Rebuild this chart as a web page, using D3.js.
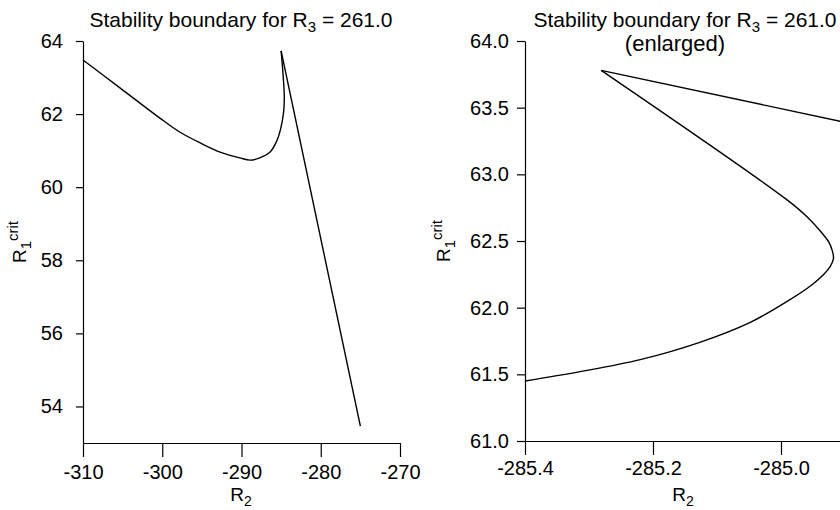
<!DOCTYPE html>
<html lang="en">
<head>
<meta charset="UTF-8">
<script src="https://cdn.jsdelivr.net/npm/d3@7"></script>
<title>Stability boundary</title>
<style>
  body { margin: 0; background: #fff; }
  svg { display: block; font-family: "Liberation Sans", Arial, Helvetica, sans-serif; }
</style>
</head>
<body>
<svg width="840" height="510"></svg>
<script>
// 1. data
// left panel: full view
var wideXTicks = [-310, -300, -290, -280, -270];
var wideYTicks = [54, 56, 58, 60, 62, 64];
var wideBranchR2 = [-310, -305.3, -300.3, -297.8, -295.2, -292.7, -290.2, -288.9, -287.7, -286.4, -285.5, -285.1, -284.7, -284.6, -284.8, -285.0];
var wideBranchR1 = [63.48, 62.71, 61.89, 61.51, 61.21, 60.96, 60.80, 60.74, 60.80, 60.96, 61.29, 61.56, 62.03, 62.47, 63.21, 63.73];
var wideLineR2 = [-285.0, -275.0];
var wideLineR1 = [63.73, 53.46];

// right panel: enlarged
var zoomXTicks = [-285.4, -285.2, -285.0];
var zoomYTicks = [61.0, 61.5, 62.0, 62.5, 63.0, 63.5, 64.0];
var zoomBranchR2 = [-285.4, -285.314, -285.22, -285.127, -285.048, -284.986, -284.952, -284.933, -284.923, -284.918, -284.920, -284.925, -284.936, -284.959, -284.991, -285.281];
var zoomBranchR1 = [61.45, 61.52, 61.61, 61.74, 61.89, 62.06, 62.17, 62.25, 62.31, 62.37, 62.43, 62.49, 62.56, 62.68, 62.81, 63.78];
var zoomLineR2 = [-285.281, -284.9];
var zoomLineR1 = [63.78, 63.39];

var svg = d3.select("svg");
svg.append("rect").attr("width", 840).attr("height", 510).attr("fill", "#fff");

function pairs(xs, ys) {
  return xs.map(function(v, i){ return [v, ys[i]] });
}

// 2. one panel = axes + titles + curve
function drawPanel(cfg) {
  var x = d3.scaleLinear().domain(cfg.xDomain).range(cfg.xRange);
  var y = d3.scaleLinear().domain(cfg.yDomain).range(cfg.yRange);

  var gx = svg.append("g")
    .attr("transform", "translate(0," + cfg.yRange[0] + ")")
    .call(d3.axisBottom(x).tickValues(cfg.xTicks).tickFormat(cfg.fmt)
      .tickSizeOuter(0).tickSizeInner(14).tickPadding(cfg.xPad));
  var gy = svg.append("g")
    .attr("transform", "translate(" + cfg.xRange[0] + ",0)")
    .call(d3.axisLeft(y).tickValues(cfg.yTicks).tickFormat(cfg.fmt)
      .tickSizeOuter(0).tickSizeInner(cfg.yTick).tickPadding(cfg.yPad));
  [gx, gy].forEach(function(g){
    g.attr("font-family", null).attr("font-size", 20);
    g.selectAll("path, line").attr("stroke", "#000").attr("stroke-width", 1.2);
    g.selectAll("text").attr("fill", "#000");
  });

  // title
  var t = svg.append("text").attr("x", cfg.titleX).attr("y", 27)
    .attr("text-anchor", "middle").attr("font-size", 21);
  t.append("tspan").text("Stability boundary for R");
  t.append("tspan").attr("dy", 5).attr("font-size", 15).text("3");
  t.append("tspan").attr("dy", -5).text(" = 261.0");
  if (cfg.subtitle) {
    svg.append("text").attr("x", cfg.subX).attr("y", 51)
      .attr("text-anchor", "middle").attr("font-size", 22).text(cfg.subtitle);
  }

  // x label
  var xl = svg.append("text").attr("x", cfg.xLabelX).attr("y", 501)
    .attr("text-anchor", "middle").attr("font-size", 19);
  xl.append("tspan").text("R");
  xl.append("tspan").attr("dy", 5).attr("font-size", 14).text("2");

  // y label
  var yMid = (cfg.yRange[0] + cfg.yRange[1]) / 2;
  var yl = svg.append("text")
    .attr("transform", "translate(" + cfg.yLabelX + "," + yMid + ") rotate(-90)")
    .attr("text-anchor", "middle").attr("font-size", 19);
  yl.append("tspan").text("R");
  yl.append("tspan").attr("dy", 5).attr("font-size", 15).text("1");
  yl.append("tspan").attr("dy", -13).attr("font-size", 15).text("crit");

  // curve
  var curve = d3.line().x(function(d){ return x(d[0]) }).y(function(d){ return y(d[1]) })
    .curve(d3.curveCatmullRom.alpha(0.5));
  var straight = d3.line().x(function(d){ return x(d[0]) }).y(function(d){ return y(d[1]) });
  svg.append("path").attr("d", curve(cfg.branch))
    .attr("fill", "none").attr("stroke", "#000").attr("stroke-width", 1.4);
  svg.append("path").attr("d", straight(cfg.line))
    .attr("fill", "none").attr("stroke", "#000").attr("stroke-width", 1.4);
}

drawPanel({
  xDomain: [-310, -270], xRange: [83, 400],
  yDomain: [53, 64], yRange: [443, 41],
  xTicks: wideXTicks, yTicks: wideYTicks,
  fmt: function(d){ return String(d) },
  xPad: 8, yTick: 7, yPad: 13,
  titleX: 241, xLabelX: 241, yLabelX: 26,
  branch: pairs(wideBranchR2, wideBranchR1),
  line: pairs(wideLineR2, wideLineR1)
});

drawPanel({
  xDomain: [-285.4, -284.9], xRange: [525, 845],
  yDomain: [61, 64], yRange: [441, 41],
  xTicks: zoomXTicks, yTicks: zoomYTicks,
  fmt: function(d){ return d.toFixed(1) },
  xPad: 6, yTick: 8, yPad: 8,
  titleX: 685, subtitle: "(enlarged)", subX: 675, xLabelX: 683, yLabelX: 450,
  branch: pairs(zoomBranchR2, zoomBranchR1),
  line: pairs(zoomLineR2, zoomLineR1)
});
</script>
</body>
</html>
